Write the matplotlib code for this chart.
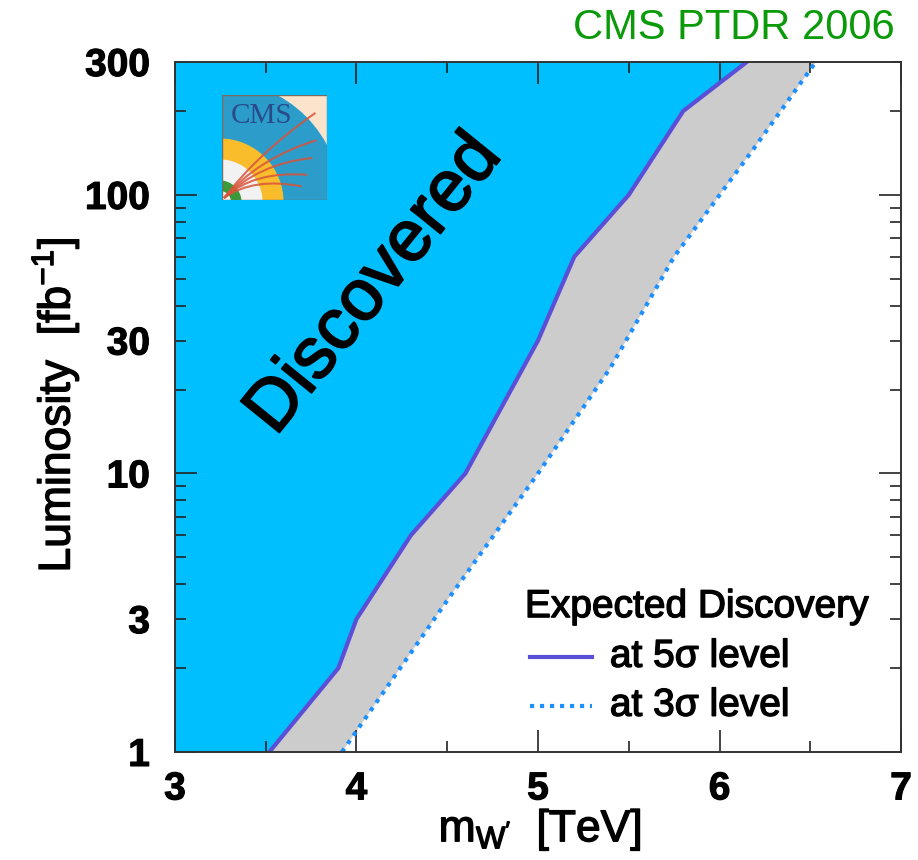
import numpy as np
import matplotlib
matplotlib.use("Agg")
import matplotlib.pyplot as plt
import matplotlib.patheffects as pe
from matplotlib.patches import Wedge, Rectangle, PathPatch
from matplotlib.path import Path
from matplotlib.ticker import FixedLocator, FuncFormatter

plt.rcParams['font.family'] = ['Liberation Sans', 'DejaVu Sans']
plt.rcParams['mathtext.default'] = 'regular'

# W' mass [TeV] vs integrated luminosity [fb^-1] needed for discovery
mass_5sigma = [3.52, 3.90, 4.00, 4.30, 4.60, 5.00, 5.20, 5.50, 5.80, 6.15]
lumi_5sigma = [1.0, 2.0, 3.0, 6.0, 10.0, 30.0, 60.0, 100.0, 200.0, 300.0]
mass_3sigma = [3.92, 4.50, 5.00, 5.40, 5.75, 6.20, 6.53]
lumi_3sigma = [1.0, 3.5, 10.0, 24.0, 60.0, 150.0, 300.0]

x_ticks = [3, 4, 5, 6, 7]
y_major = [1, 10, 100]
y_minor = [2, 3, 4, 5, 6, 7, 8, 9, 20, 30, 40, 50, 60, 70, 80, 90, 200, 300]
y_minor_labels = [3, 30, 300]

c_blue = '#00BFFF'
c_grey = '#CCCCCC'
c_5sig = '#5A4FD6'
c_3sig = '#1E8FFF'

heavy = [pe.withStroke(linewidth=1.0, foreground='black')]
heavy_tick = [pe.withStroke(linewidth=0.8, foreground='black')]

fig = plt.figure(figsize=(9.18, 8.6), dpi=100)
ax = fig.add_axes([0.1906, 0.1256, 0.7909, 0.8023])
ax.set_yscale('log')
ax.set_xlim(3, 7)
ax.set_ylim(1, 300)

# discovered region (left of 5 sigma curve) and band between 5 and 3 sigma
ax.fill([3] + mass_5sigma + [3], [lumi_5sigma[0]] + lumi_5sigma + [lumi_5sigma[-1]],
        color=c_blue, lw=0, zorder=1)
ax.fill(mass_5sigma + mass_3sigma[::-1], lumi_5sigma + lumi_3sigma[::-1],
        color=c_grey, lw=0, zorder=1)
ax.plot(mass_5sigma, lumi_5sigma, color=c_5sig, lw=3, zorder=3,
        solid_joinstyle='round')
ax.plot(mass_3sigma, lumi_3sigma, color=c_3sig, lw=3, zorder=3,
        linestyle=(0, (1.0, 1.4)))

# ticks
ax.xaxis.set_major_locator(FixedLocator(x_ticks))
ax.xaxis.set_minor_locator(FixedLocator([3.5, 4.5, 5.5, 6.5]))
ax.set_xticklabels([str(t) for t in x_ticks])
ax.yaxis.set_major_locator(FixedLocator(y_major))
ax.yaxis.set_minor_locator(FixedLocator(y_minor))
ax.yaxis.set_major_formatter(FuncFormatter(lambda v, p: '%d' % v))
ax.yaxis.set_minor_formatter(
    FuncFormatter(lambda v, p: '%d' % v if int(round(v)) in y_minor_labels else ''))
ax.tick_params(which='both', direction='in', top=True, right=True,
               width=1.2, color='#222222')
ax.tick_params(which='major', length=15.5)
ax.tick_params(which='minor', length=8)
ax.tick_params(axis='x', which='both', labelsize=28, pad=14)
ax.tick_params(axis='y', which='both', labelsize=28, pad=18)
for lab in ax.get_xticklabels() + ax.get_yticklabels() + ax.get_yticklabels(minor=True):
    lab.set_fontweight('bold')
    lab.set_path_effects(heavy_tick)
for sp in ax.spines.values():
    sp.set_linewidth(1.4)
    sp.set_color('#333333')
    sp.set_zorder(5)

ax.text(0.503, -0.113, "m$_{W'}$  [TeV]", transform=ax.transAxes,
        ha='center', va='center', fontsize=32, path_effects=heavy)
ax.text(-0.165, 0.503, 'Luminosity  [fb$^{-1}$]', transform=ax.transAxes,
        ha='center', va='center', rotation=90, fontsize=32, path_effects=heavy)

ax.text(0.2755, 0.677, 'Discovered', transform=ax.transAxes, fontsize=52,
        rotation=51, rotation_mode='anchor', ha='center', va='center', zorder=4,
        path_effects=[pe.withStroke(linewidth=1.4, foreground='black')])

fig.text(0.975, 0.967, 'CMS PTDR 2006', color='#0A9A0A', fontsize=30,
         ha='right', va='center')

# legend
ax.text(0.482, 0.210, 'Expected Discovery', transform=ax.transAxes,
        fontsize=28, ha='left', va='center', zorder=4, path_effects=heavy)
ax.plot([0.489, 0.574], [0.138, 0.138], transform=ax.transAxes,
        color=c_5sig, lw=3, zorder=4)
ax.text(0.599, 0.138, 'at 5\u03c3 level', transform=ax.transAxes,
        fontsize=28, ha='left', va='center', zorder=4, path_effects=heavy)
ax.plot([0.489, 0.574], [0.067, 0.067], transform=ax.transAxes,
        color=c_3sig, lw=3, linestyle=(0, (1.0, 1.4)), zorder=4)
ax.text(0.599, 0.067, 'at 3\u03c3 level', transform=ax.transAxes,
        fontsize=28, ha='left', va='center', zorder=4, path_effects=heavy)

# CMS logo
lg = fig.add_axes([0.2418, 0.7674, 0.1144, 0.1221])
lg.set_xlim(0, 1)
lg.set_ylim(0, 1)
lg.axis('off')
lg.add_patch(Rectangle((0, 0), 1, 1, color='#FCE4CC', zorder=0))
for r, col in [(1.15, '#2C9CCB'), (0.60, '#F9BD2C'), (0.40, '#F2F2F2'), (0.20, '#3A9A3A')]:
    lg.add_patch(Wedge((-0.02, -0.02), r, 0, 90, color=col, zorder=1))
lg.add_patch(Wedge((-0.02, -0.02), 0.10, 0, 90, color='#F2F2F2', zorder=1))
tracks = [((0.89, 0.83), (0.35, 0.45)), ((0.90, 0.57), (0.35, 0.40)),
          ((0.86, 0.40), (0.35, 0.35)), ((0.81, 0.24), (0.30, 0.28)),
          ((0.76, 0.13), (0.30, 0.22))]
for end, ctrl in tracks:
    p = Path([(0.02, 0.02), ctrl, end], [Path.MOVETO, Path.CURVE3, Path.CURVE3])
    lg.add_patch(PathPatch(p, fill=False, edgecolor='#D8553A', lw=1.5,
                           alpha=0.85, zorder=3))
lg.text(0.08, 0.80, 'CMS', fontsize=21, family='Liberation Serif',
        color='#2A4A8A', ha='left', va='center', zorder=2)
lg.add_patch(Rectangle((0, 0), 1, 1, fill=False, edgecolor='#7A6A5A', lw=1.0, zorder=4))

fig.savefig('out.png', dpi=100, facecolor='white')
